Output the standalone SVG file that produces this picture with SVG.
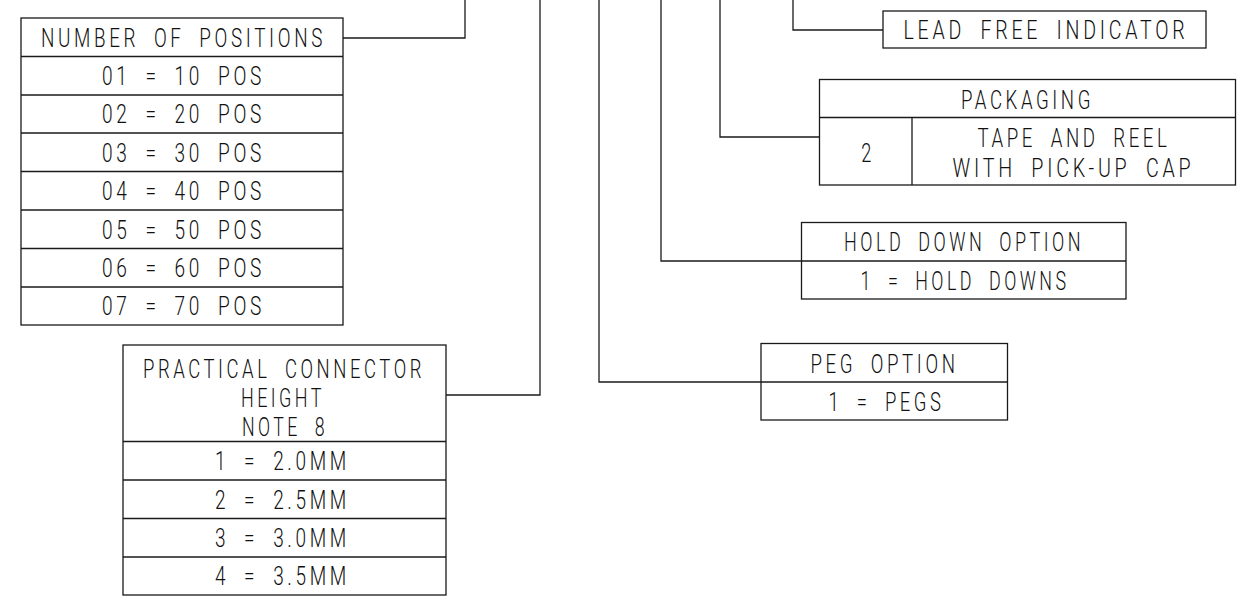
<svg xmlns="http://www.w3.org/2000/svg" width="1258" height="604" viewBox="0 0 1258 604">
<style>
  .bg { fill: #ffffff; }
  .box { fill: none; stroke: #1a1a1a; stroke-width: 1.3; }
  .ln { fill: none; stroke: #1a1a1a; stroke-width: 1.3; }
  .t { font-family: Roboto, "Liberation Sans", sans-serif; font-weight: 300; font-size: 26px; fill: #111; text-anchor: middle; letter-spacing: 5px; word-spacing: 9px; }
</style>
<rect class="bg" x="0" y="0" width="1258" height="604"/>

<g id="connectors">
  <polyline class="ln" points="343,38 465,38 465,0"/>
  <polyline class="ln" points="446,395 540,395 540,0"/>
  <polyline class="ln" points="883,30 793,30 793,0"/>
  <polyline class="ln" points="819.5,137 720,137 720,0"/>
  <polyline class="ln" points="801.5,261 661,261 661,0"/>
  <polyline class="ln" points="761,382 599,382 599,0"/>
</g>

<g id="number-of-positions">
  <rect class="box" x="21" y="18" width="322" height="307"/>
  <line class="ln" x1="21" y1="56.5" x2="343" y2="56.5"/>
  <line class="ln" x1="21" y1="95" x2="343" y2="95"/>
  <line class="ln" x1="21" y1="133" x2="343" y2="133"/>
  <line class="ln" x1="21" y1="171.5" x2="343" y2="171.5"/>
  <line class="ln" x1="21" y1="210" x2="343" y2="210"/>
  <line class="ln" x1="21" y1="248.5" x2="343" y2="248.5"/>
  <line class="ln" x1="21" y1="287" x2="343" y2="287"/>
  <g transform="scale(0.7,1)">
    <text class="t" x="262.14" y="47" textLength="407.14" lengthAdjust="spacingAndGlyphs">NUMBER OF POSITIONS</text>
    <text class="t" x="262.14" y="85.5" textLength="232.86" lengthAdjust="spacingAndGlyphs">01 = 10 POS</text>
    <text class="t" x="262.14" y="123.5" textLength="232.86" lengthAdjust="spacingAndGlyphs">02 = 20 POS</text>
    <text class="t" x="262.14" y="162" textLength="232.86" lengthAdjust="spacingAndGlyphs">03 = 30 POS</text>
    <text class="t" x="262.14" y="200.5" textLength="232.86" lengthAdjust="spacingAndGlyphs">04 = 40 POS</text>
    <text class="t" x="262.14" y="239" textLength="232.86" lengthAdjust="spacingAndGlyphs">05 = 50 POS</text>
    <text class="t" x="262.14" y="277.5" textLength="232.86" lengthAdjust="spacingAndGlyphs">06 = 60 POS</text>
    <text class="t" x="262.14" y="315.5" textLength="232.86" lengthAdjust="spacingAndGlyphs">07 = 70 POS</text>
  </g>
</g>

<g id="practical-connector-height">
  <rect class="box" x="123" y="345" width="323" height="250"/>
  <line class="ln" x1="123" y1="441.5" x2="446" y2="441.5"/>
  <line class="ln" x1="123" y1="480" x2="446" y2="480"/>
  <line class="ln" x1="123" y1="518.5" x2="446" y2="518.5"/>
  <line class="ln" x1="123" y1="557" x2="446" y2="557"/>
  <g transform="scale(0.7,1)">
    <text class="t" x="405.71" y="378" textLength="402.86" lengthAdjust="spacingAndGlyphs">PRACTICAL CONNECTOR</text>
    <text class="t" x="404.29" y="407" textLength="120" lengthAdjust="spacingAndGlyphs">HEIGHT</text>
    <text class="t" x="407.14" y="436" textLength="122.86" lengthAdjust="spacingAndGlyphs">NOTE 8</text>
    <text class="t" x="403.57" y="470.5" textLength="192.86" lengthAdjust="spacingAndGlyphs">1 = 2.0MM</text>
    <text class="t" x="403.57" y="509" textLength="192.86" lengthAdjust="spacingAndGlyphs">2 = 2.5MM</text>
    <text class="t" x="403.57" y="547.5" textLength="192.86" lengthAdjust="spacingAndGlyphs">3 = 3.0MM</text>
    <text class="t" x="403.57" y="585.5" textLength="192.86" lengthAdjust="spacingAndGlyphs">4 = 3.5MM</text>
  </g>
</g>

<g id="lead-free-indicator">
  <rect class="box" x="883" y="11" width="323" height="37"/>
  <g transform="scale(0.7,1)">
    <text class="t" x="1494.29" y="39" textLength="407.14" lengthAdjust="spacingAndGlyphs">LEAD FREE INDICATOR</text>
  </g>
</g>

<g id="packaging">
  <rect class="box" x="819.5" y="79.5" width="416" height="105.5"/>
  <line class="ln" x1="819.5" y1="117.5" x2="1235.5" y2="117.5"/>
  <line class="ln" x1="912" y1="117.5" x2="912" y2="185"/>
  <g transform="scale(0.7,1)">
    <text class="t" x="1467.86" y="109" textLength="190" lengthAdjust="spacingAndGlyphs">PACKAGING</text>
    <text class="t" x="1240" y="162">2</text>
    <text class="t" x="1534.29" y="147" textLength="275.71" lengthAdjust="spacingAndGlyphs">TAPE AND REEL</text>
    <text class="t" x="1533.57" y="177" textLength="345.71" lengthAdjust="spacingAndGlyphs">WITH PICK-UP CAP</text>
  </g>
</g>

<g id="hold-down-option">
  <rect class="box" x="801.5" y="222.5" width="324.5" height="76.5"/>
  <line class="ln" x1="801.5" y1="261" x2="1126" y2="261"/>
  <g transform="scale(0.7,1)">
    <text class="t" x="1377.14" y="251.5" textLength="342.86" lengthAdjust="spacingAndGlyphs">HOLD DOWN OPTION</text>
    <text class="t" x="1378.57" y="290" textLength="298.57" lengthAdjust="spacingAndGlyphs">1 = HOLD DOWNS</text>
  </g>
</g>

<g id="peg-option">
  <rect class="box" x="761" y="343.5" width="246.5" height="76.5"/>
  <line class="ln" x1="761" y1="382" x2="1007.5" y2="382"/>
  <g transform="scale(0.7,1)">
    <text class="t" x="1263.57" y="373" textLength="211.43" lengthAdjust="spacingAndGlyphs">PEG OPTION</text>
    <text class="t" x="1266.43" y="411" textLength="165.71" lengthAdjust="spacingAndGlyphs">1 = PEGS</text>
  </g>
</g>
</svg>
